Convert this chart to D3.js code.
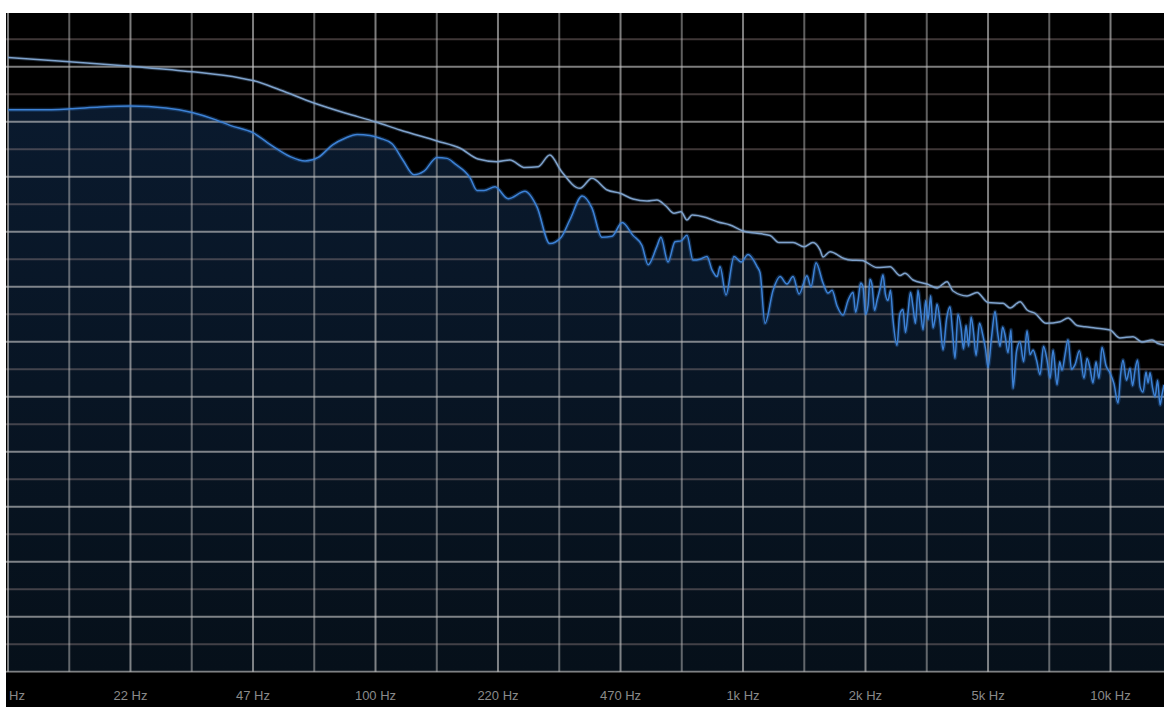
<!DOCTYPE html>
<html>
<head>
<meta charset="utf-8">
<script src="https://cdn.jsdelivr.net/npm/d3@7"></script>
<style>
  html, body { margin: 0; padding: 0; background: #ffffff; }
  svg { display: block; }
</style>
</head>
<body>
<svg id="chart" width="1164" height="707"></svg>
<script>
// Axis ticks: labelled third-decade frequencies and the sixth-decade lines between them
const tickFreqs = [10, 21.54, 46.42, 100, 215.4, 464.2, 1000, 2154, 4642, 10000];
const tickLabels = ["10 Hz", "22 Hz", "47 Hz", "100 Hz", "220 Hz", "470 Hz", "1k Hz", "2k Hz", "5k Hz", "10k Hz"];
const minorFreqs = [14.68, 31.62, 68.13, 146.8, 316.2, 681.3, 1468, 3162, 6813];
const levelLines = [0, -3, -6, -9, -12, -15, -18, -21, -24, -27, -30, -33, -36, -39, -42, -45, -48, -51, -54, -57, -60, -63, -66, -69, -72];

// Peak-hold trace (Hz, dB)
const peakFreq = [10, 14.7, 21.6, 31.7, 42.8, 46.4, 55.0, 68.0, 82.6, 100.3, 116.6, 147, 170, 190, 214, 232, 255, 277, 298, 320,
  360, 388, 427, 463, 502, 548, 583, 617, 649, 678, 704, 727, 793, 855, 922, 1000, 1092, 1185, 1253, 1368,
  1466, 1550, 1620, 1651, 1725, 1883, 1956, 2108, 2315, 2512, 2674, 2759, 2901, 3168, 3372, 3590, 3728, 4069, 4332, 4642,
  5100, 5328, 5673, 5928, 6233, 6675, 7290, 7663, 8106, 8523, 9075, 9968, 10612, 11515, 12180, 12970, 13470, 13980];
const peakDb = [-5.0, -5.45, -5.96, -6.55, -7.23, -7.51, -8.54, -9.96, -11.05, -12.03, -12.91, -14.1, -14.9, -16.07, -16.36, -16.18, -17.0, -16.91, -15.63, -17.38,
  -19.27, -18.17, -19.45, -19.81, -20.43, -20.65, -20.54, -21.2, -21.99, -21.82, -22.72, -22.18, -22.45, -22.94, -23.27, -23.92, -24.17, -24.41, -25.18, -25.18,
  -25.64, -25.18, -25.99, -26.76, -26.18, -26.92, -27.09, -27.14, -27.91, -27.82, -28.78, -28.54, -29.27, -29.71, -30.14, -29.45, -30.47, -31.01, -30.63, -31.72,
  -31.81, -32.32, -31.64, -32.54, -32.9, -33.99, -33.82, -33.41, -34.23, -34.36, -34.5, -34.72, -35.6, -35.45, -36.03, -35.81, -36.2, -36.36];

// Live spectrum trace (Hz, dB)
const specFreq = [10, 12.2, 14.7, 17.8, 21.6, 26.9, 31.7, 36.8, 40.2, 46.4, 52.6, 58.5, 64.3, 69.8, 76.6, 82.6, 89.1, 96.6, 102.9, 110.9,
  118.8, 127.3, 135.5, 147, 156.5, 164.6, 180.8, 188.9, 197.4, 211.4, 229.5, 255, 275, 298, 320, 338, 365, 388, 413, 440,
  469, 502, 531, 552, 583, 598, 625, 653, 678, 704, 731, 764, 798, 824, 850, 866, 899, 945, 988, 1032,
  1092, 1113, 1148, 1207, 1261, 1317, 1368, 1421, 1493, 1531, 1580, 1651, 1703, 1747, 1803, 1871, 1931,
  1993, 2025, 2056, 2090, 2121, 2155, 2189, 2215, 2244, 2280, 2315, 2360, 2404, 2440, 2480, 2520, 2559, 2624, 2670, 2725,
  2768, 2812, 2856, 2901, 2945, 2993, 3040, 3090, 3140, 3188, 3240, 3289, 3330, 3372, 3440, 3501, 3580, 3658, 3715, 3774,
  3845, 3920, 3980, 4045, 4110, 4174, 4240, 4306, 4400, 4499, 4570, 4642, 4745, 4851, 4930, 5005, 5085, 5164, 5260, 5361,
  5428, 5550, 5673, 5800, 5928, 6040, 6155, 6290, 6431, 6570, 6719, 6850, 6976, 7153, 7270, 7381, 7520, 7663, 7830, 8006,
  8230, 8470, 8630, 8795, 8960, 9131, 9300, 9481, 9720, 9968, 10220, 10481, 10650, 10815, 11050, 11300, 11480, 11660, 11850, 12030,
  12260, 12490, 12650, 12810, 13010, 13220, 13430, 13640, 13800, 13980];
const specDb = [-10.7, -10.7, -10.6, -10.4, -10.3, -10.5, -11.0, -11.8, -12.4, -13.2, -14.7, -15.8, -16.3, -15.9, -14.5, -13.8, -13.4, -13.5, -13.8, -14.4,
  -16.2, -17.8, -17.4, -15.9, -16.0, -16.6, -18.1, -19.5, -19.5, -19.1, -20.4, -19.6, -21.3, -25.3, -24.6, -22.7, -20.1, -21.4, -24.6, -24.5,
  -23.0, -24.4, -25.5, -27.6, -25.6, -24.6, -27.3, -25.1, -25.0, -24.4, -27.1, -27.0, -26.7, -28.2, -28.9, -27.8, -30.9, -26.7, -27.3, -26.5,
  -27.8, -28.5, -34.0, -30.4, -28.9, -29.7, -28.9, -30.8, -28.8, -30.0, -27.4, -29.6, -30.7, -30.4, -32.1, -33.1, -31.5,
  -30.6, -32.8, -31.5, -29.6, -30.0, -33.0, -32.0, -29.2, -29.8, -32.6, -31.5, -30.2, -28.7, -30.8, -31.5, -30.4, -33.6, -36.4, -33.0, -32.5,
  -35.0, -32.8, -30.6, -32.2, -34.0, -30.4, -32.5, -34.7, -31.5, -33.6, -31.0, -34.5, -33.5, -31.9, -34.0, -36.9, -33.5, -32.2, -34.8, -37.8,
  -33.0, -34.5, -36.8, -34.2, -36.5, -33.3, -35.0, -37.5, -34.0, -35.4, -36.8, -38.8, -35.5, -32.7, -35.0, -36.5, -34.4, -35.3, -37.2, -34.7,
  -41.1, -37.0, -36.0, -38.2, -34.8, -37.4, -36.9, -38.0, -39.6, -36.5, -38.0, -40.0, -36.9, -40.7, -38.2, -39.1, -37.4, -35.8, -39.0, -38.5,
  -37.0, -40.0, -37.8, -38.9, -40.5, -38.2, -40.0, -36.6, -38.6, -39.4, -40.6, -42.7, -39.6, -38.0, -40.2, -38.9, -40.8, -39.1, -38.0, -40.9,
  -41.5, -39.3, -40.5, -39.4, -41.0, -42.0, -40.2, -42.9, -41.8, -40.7];

const W = 1164, H = 707;
const plotLeft = 6, plotTop = 13;

const svg = d3.select("#chart");

const x = d3.scaleLog().domain([10, 13980]).range([8, 1164]);
const y = d3.scaleLinear().domain([-72, 0]).range([671.7, 11.7]);

svg.append("rect").attr("width", W).attr("height", H).attr("fill", "#ffffff");
svg.append("rect").attr("x", plotLeft).attr("y", plotTop).attr("width", W - plotLeft).attr("height", H - plotTop).attr("fill", "#000000");

const defs = svg.append("defs");
defs.append("clipPath").attr("id", "plotClip")
  .append("rect").attr("x", plotLeft).attr("y", plotTop).attr("width", W - plotLeft).attr("height", y(-72) - plotTop + 1);
defs.append("clipPath").attr("id", "labelClip")
  .append("rect").attr("x", plotLeft + 1).attr("y", 673).attr("width", W - plotLeft).attr("height", H - 673);

const grad = defs.append("linearGradient").attr("id", "fillGrad")
  .attr("x1", 0).attr("y1", 0).attr("x2", 0).attr("y2", 1);
grad.append("stop").attr("offset", "0%").attr("stop-color", "#0a1a2e");
grad.append("stop").attr("offset", "100%").attr("stop-color", "#06101a");

const plot = svg.append("g").attr("clip-path", "url(#plotClip)");

const spec = specFreq.map((f, i) => ({ f, db: specDb[i] }));
const peak = peakFreq.map((f, i) => ({ f, db: peakDb[i] }));

// Filled spectrum body
plot.append("path")
  .datum(spec)
  .attr("fill", "url(#fillGrad)")
  .attr("d", d3.area()
    .x(d => x(d.f))
    .y0(y(-72))
    .y1(d => y(d.db))
    .curve(d3.curveMonotoneX));

// Grid: level lines every 3 dB (brighter every 6 dB), frequency lines every sixth of a decade
const grid = plot.append("g");
grid.selectAll("line.level")
  .data(levelLines)
  .join("line")
  .attr("class", "level")
  .attr("x1", plotLeft).attr("x2", W)
  .attr("y1", d => y(d)).attr("y2", d => y(d))
  .attr("stroke", d => (d % 6 === 0) ? "rgba(200,200,200,0.62)" : "rgba(165,145,145,0.38)")
  .attr("stroke-width", 2);

grid.selectAll("line.minor")
  .data(minorFreqs)
  .join("line")
  .attr("class", "minor")
  .attr("x1", d => x(d)).attr("x2", d => x(d))
  .attr("y1", plotTop).attr("y2", y(-72))
  .attr("stroke", "rgba(190,190,190,0.5)")
  .attr("stroke-width", 2);

grid.selectAll("line.major")
  .data(tickFreqs)
  .join("line")
  .attr("class", "major")
  .attr("x1", d => x(d)).attr("x2", d => x(d))
  .attr("y1", plotTop).attr("y2", y(-72))
  .attr("stroke", "rgba(200,200,200,0.62)")
  .attr("stroke-width", 2);

// Traces
const line = d3.line().x(d => x(d.f)).y(d => y(d.db)).curve(d3.curveMonotoneX);

plot.append("path")
  .datum(spec)
  .attr("fill", "none")
  .attr("stroke", "#2f6fc0")
  .attr("stroke-opacity", 0.3)
  .attr("stroke-width", 4)
  .attr("d", line);
plot.append("path")
  .datum(spec)
  .attr("fill", "none")
  .attr("stroke", "#3d82d6")
  .attr("stroke-width", 1.5)
  .attr("d", line);

plot.append("path")
  .datum(peak)
  .attr("fill", "none")
  .attr("stroke", "#6f93bf")
  .attr("stroke-opacity", 0.28)
  .attr("stroke-width", 3.5)
  .attr("d", line);
plot.append("path")
  .datum(peak)
  .attr("fill", "none")
  .attr("stroke", "#7fa3cd")
  .attr("stroke-width", 1.5)
  .attr("d", line);

// Frequency axis labels
const labels = svg.append("g").attr("clip-path", "url(#labelClip)");
labels.selectAll("text")
  .data(tickFreqs)
  .join("text")
  .attr("x", d => x(d))
  .attr("y", 700)
  .attr("text-anchor", "middle")
  .attr("font-family", "'Liberation Sans', Arial, sans-serif")
  .attr("font-size", 13)
  .attr("fill", "#8a8a8a")
  .text((d, i) => tickLabels[i]);
</script>
</body>
</html>
